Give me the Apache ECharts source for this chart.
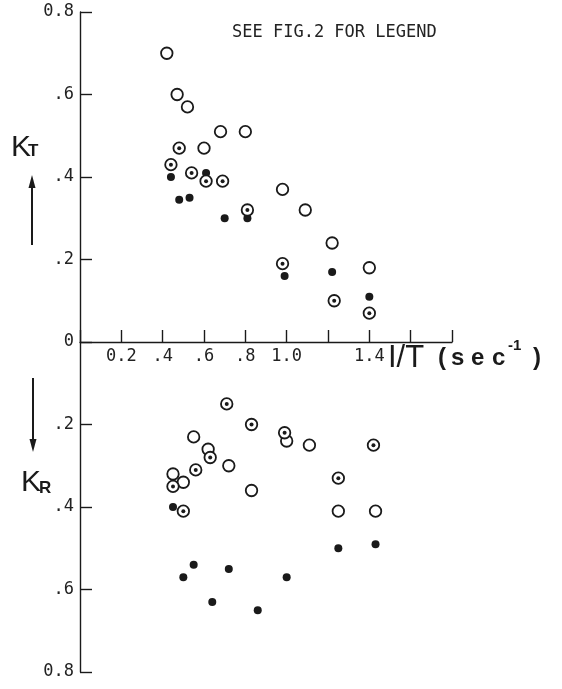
<!DOCTYPE html>
<html>
<head>
<meta charset="utf-8">
<script src="https://cdn.jsdelivr.net/npm/echarts@6/dist/echarts.min.js"></script>
<style>
html, body { margin: 0; padding: 0; background: #fff; }
#main { width: 562px; height: 689px; }
</style>
</head>
<body>
<div id="main"></div>
<script>
// ticks
var xTickLabels = ['', '0.2', '.4', '.6', '.8', '1.0', '', '1.4', '', ''];
var yTickValues = [-0.8, -0.6, -0.4, -0.2, 0, 0.2, 0.4, 0.6, 0.8];
var yTickLabels = ['0.8', '.6', '.4', '.2', '0', '.2', '.4', '.6', '0.8'];

// K_T, upper half  [1/T, K]
var ktOpen = [[0.42, 0.70], [0.47, 0.60], [0.52, 0.57], [0.68, 0.51], [0.80, 0.51],
    [0.60, 0.47], [0.98, 0.37], [1.09, 0.32], [1.22, 0.24], [1.40, 0.18]];
var ktDotted = [[0.48, 0.47], [0.44, 0.43], [0.54, 0.41], [0.61, 0.39], [0.69, 0.39],
    [0.81, 0.32], [0.98, 0.19], [1.23, 0.10], [1.40, 0.07]];
var ktFilled = [[0.44, 0.40], [0.61, 0.41], [0.48, 0.345], [0.53, 0.35], [0.70, 0.30],
    [0.81, 0.30], [0.99, 0.16], [1.22, 0.17], [1.40, 0.11]];

// K_R, lower half (plotted downwards)
var krOpen = [[0.55, 0.23], [1.00, 0.24], [1.11, 0.25], [0.62, 0.26], [0.72, 0.30],
    [0.45, 0.32], [0.50, 0.34], [0.83, 0.36], [1.25, 0.41], [1.43, 0.41]];
var krDotted = [[0.71, 0.15], [0.83, 0.20], [0.99, 0.22], [1.42, 0.25], [0.63, 0.28],
    [0.56, 0.31], [0.45, 0.35], [1.25, 0.33], [0.50, 0.41]];
var krFilled = [[0.45, 0.40], [1.25, 0.50], [1.43, 0.49], [0.55, 0.54], [0.72, 0.55],
    [0.50, 0.57], [1.00, 0.57], [0.64, 0.63], [0.86, 0.65]];

function down(arr) {
    return arr.map(function (p) { return [p[0], -p[1]]; });
}

var ink = '#1a1a1a';
var tickFont = '"DejaVu Sans Mono"';

var openPts = ktOpen.concat(down(krOpen));
var dottedPts = ktDotted.concat(down(krDotted));
var filledPts = ktFilled.concat(down(krFilled));

var chart = echarts.init(document.getElementById('main'));
chart.setOption({
    animation: false,
    backgroundColor: '#fff',
    grid: { left: 80, right: 110, top: 12, bottom: 17 },
    xAxis: [{
        type: 'value', min: 0, max: 1.8, interval: 0.2,
        splitLine: { show: false },
        axisLine: { onZero: true, lineStyle: { color: ink, width: 1.4 } },
        axisTick: { inside: true, length: 12, lineStyle: { color: ink, width: 1.4 } },
        axisLabel: { show: false }
    }, {
        // labels only, sitting under the zero line
        type: 'value', min: 0, max: 1.8, interval: 0.2,
        position: 'bottom', offset: -330,
        splitLine: { show: false },
        axisLine: { show: false, onZero: false },
        axisTick: { show: false },
        axisLabel: {
            margin: 6, color: '#222', fontFamily: tickFont, fontSize: 17,
            formatter: function (v) { return xTickLabels[Math.round(v / 0.2)] || ''; }
        }
    }],
    yAxis: {
        type: 'value', min: -0.8, max: 0.8, interval: 0.2,
        splitLine: { show: false },
        axisLine: { lineStyle: { color: ink, width: 1.4 } },
        axisTick: { inside: true, length: 12, lineStyle: { color: ink, width: 1.4 } },
        axisLabel: {
            margin: 6, color: '#222', fontFamily: tickFont, fontSize: 17,
            formatter: function (v) {
                for (var i = 0; i < yTickValues.length; i++) {
                    if (Math.abs(yTickValues[i] - v) < 1e-6) return yTickLabels[i];
                }
                return '';
            }
        }
    },
    series: [
        {
            type: 'scatter', data: filledPts, symbol: 'circle', symbolSize: 8,
            itemStyle: { color: ink, opacity: 1 }, z: 2
        },
        {
            type: 'scatter', data: openPts, symbol: 'circle', symbolSize: 11.5,
            itemStyle: { color: '#fff', borderColor: ink, borderWidth: 1.8, opacity: 1 }, z: 3
        },
        {
            type: 'scatter', data: dottedPts, symbol: 'circle', symbolSize: 11.5,
            itemStyle: { color: '#fff', borderColor: ink, borderWidth: 1.8, opacity: 1 }, z: 3
        },
        {
            type: 'scatter', data: dottedPts, symbol: 'circle', symbolSize: 4,
            itemStyle: { color: ink, opacity: 1 }, z: 4
        }
    ],
    graphic: [
        { type: 'text', style: { x: 232, y: 33, text: 'SEE FIG.2 FOR LEGEND', font: '17px "DejaVu Sans Mono"', fill: '#222', verticalAlign: 'middle' } },
        // K_T
        { type: 'text', style: { x: 11, y: 148, text: 'K', font: '30px "Liberation Sans"', fill: ink, verticalAlign: 'middle' } },
        { type: 'text', style: { x: 28, y: 151, text: 'T', font: 'bold 17px "Liberation Sans"', fill: ink, verticalAlign: 'middle' } },
        { type: 'line', shape: { x1: 32, y1: 245, x2: 32, y2: 184 }, style: { stroke: ink, lineWidth: 2 } },
        { type: 'polygon', shape: { points: [[32, 175], [28.5, 188], [35.5, 188]] }, style: { fill: ink } },
        // K_R
        { type: 'line', shape: { x1: 33, y1: 378, x2: 33, y2: 442 }, style: { stroke: ink, lineWidth: 2 } },
        { type: 'polygon', shape: { points: [[33, 452], [29.5, 439], [36.5, 439]] }, style: { fill: ink } },
        { type: 'text', style: { x: 21, y: 483, text: 'K', font: '30px "Liberation Sans"', fill: ink, verticalAlign: 'middle' } },
        { type: 'text', style: { x: 39, y: 488, text: 'R', font: 'bold 17px "Liberation Sans"', fill: ink, verticalAlign: 'middle' } },
        // x axis title
        { type: 'text', style: { x: 388, y: 358, text: 'I/T', font: '31px "Liberation Sans"', fill: ink, verticalAlign: 'middle' } },
        { type: 'text', style: { x: 438, y: 358, text: '(', font: 'bold 24px "Liberation Sans"', fill: ink, verticalAlign: 'middle' } },
        { type: 'text', style: { x: 451, y: 358, text: 's', font: 'bold 24px "Liberation Sans"', fill: ink, verticalAlign: 'middle' } },
        { type: 'text', style: { x: 471, y: 358, text: 'e', font: 'bold 24px "Liberation Sans"', fill: ink, verticalAlign: 'middle' } },
        { type: 'text', style: { x: 492, y: 358, text: 'c', font: 'bold 24px "Liberation Sans"', fill: ink, verticalAlign: 'middle' } },
        { type: 'text', style: { x: 508, y: 346, text: '-1', font: 'bold 15px "Liberation Sans"', fill: ink, verticalAlign: 'middle' } },
        { type: 'text', style: { x: 533, y: 358, text: ')', font: 'bold 24px "Liberation Sans"', fill: ink, verticalAlign: 'middle' } }
    ]
});
</script>
</body>
</html>
